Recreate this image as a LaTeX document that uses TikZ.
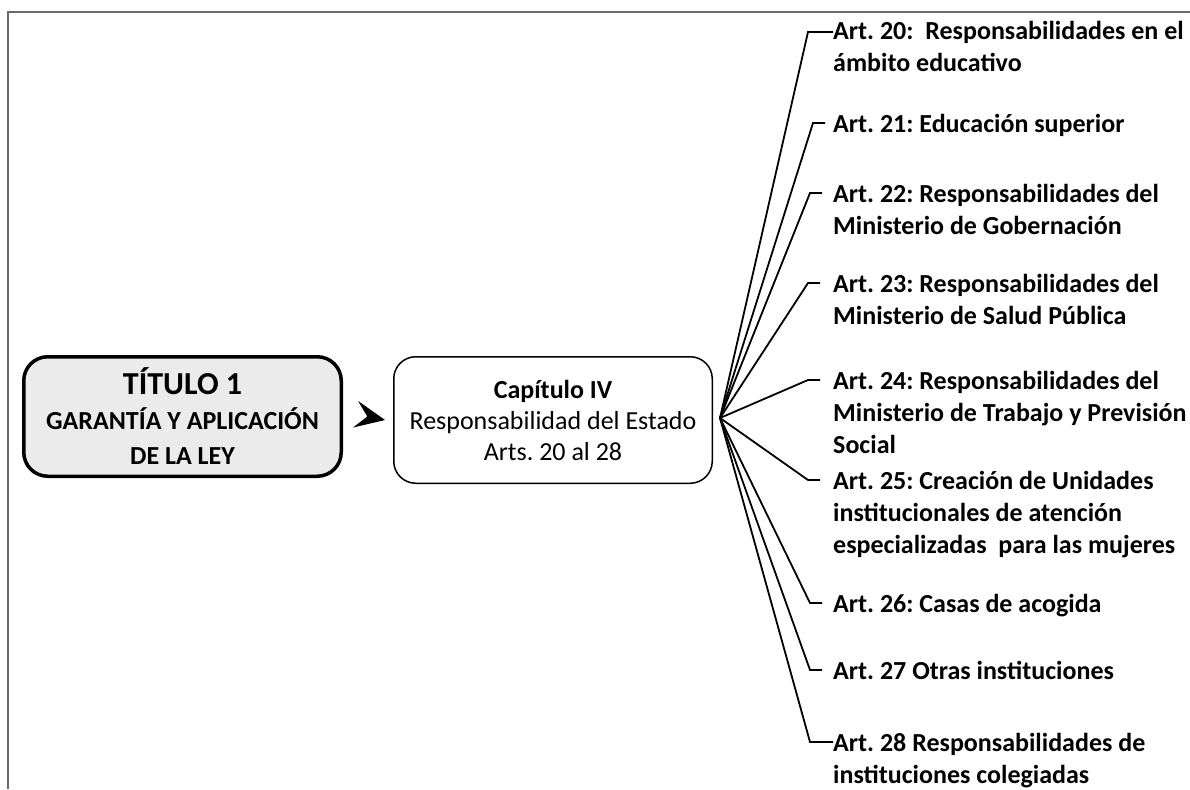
\documentclass[tikz,border=0pt]{standalone}
\usepackage{fontspec}
\setmainfont{Carlito}
\usetikzlibrary{arrows.meta}
\definecolor{framegray}{HTML}{6A6A6A}
\definecolor{boxfill}{HTML}{EBEBEB}
\frenchspacing
\begin{document}
\frenchspacing
\begin{tikzpicture}[x=1pt,y=-1pt,
  framestyle/.style={draw=framegray,line width=2pt},
  titlebox/.style={draw,line width=3.5pt,rounded corners=24pt,fill=boxfill,
    minimum width=317.5pt,minimum height=119.5pt,align=center,inner sep=0pt,
    font=\bfseries\fontsize{26}{35}\selectfont},
  capbox/.style={draw,line width=1.5pt,rounded corners=22pt,fill=white,
    minimum width=318.5pt,minimum height=126.5pt,align=center,inner sep=0pt,
    font=\fontsize{26}{31}\selectfont},
  art/.style={anchor=base west,align=left,inner sep=0pt,
    font=\bfseries\fontsize{26}{32}\selectfont},
  branch/.style={line width=1.8pt,line join=miter},
  pointer/.style={-{Stealth[length=30pt,width=27pt,inset=12pt]},line width=1pt}
]
\useasboundingbox (0,0) rectangle (1190,789);
\draw[framestyle] (8,789) -- (8,12) -- (1190,12);

\node[titlebox] (t) at (182.5,416.5)
  {{\fontsize{32}{38}\selectfont TÍTULO 1}\\ GARANTÍA Y APLICACIÓN\\ DE LA LEY};
\node[capbox] (c) at (553,420)
  {{\bfseries Capítulo IV}\\ Responsabilidad del Estado\\ Arts. 20 al 28};
\draw[pointer] ([xshift=24pt]t.east) -- ([xshift=-8pt]c.west);

\coordinate (fan) at ([xshift=7pt,yshift=2pt]c.east);

% base anchor = baseline of the last line
\node[art] (a20) at (833,72) {Art. 20:\ \ Responsabilidades en el\\ ámbito educativo};
\node[art] (a21) at (833,132) {Art. 21: Educación superior};
\node[art] (a22) at (833,234) {Art. 22: Responsabilidades del\\ Ministerio de Gobernación};
\node[art] (a23) at (833,324) {Art. 23: Responsabilidades del\\ Ministerio de Salud Pública};
\node[art] (a24) at (833,453) {Art. 24: Responsabilidades del\\ Ministerio de Trabajo y Previsión\\ Social};
\node[art] (a25) at (833,553) {Art. 25: Creación de Unidades\\ institucionales de atención\\ especializadas\ \ para las mujeres};
\node[art] (a26) at (833,612) {Art. 26: Casas de acogida};
\node[art] (a27) at (833,679) {Art. 27 Otras instituciones};
\node[art] (a28) at (833,783) {Art. 28 Responsabilidades de\\ instituciones colegiadas};

\coordinate (k20) at (808,32);
\coordinate (k21) at (813,123);
\coordinate (k22) at (810,193);
\coordinate (k23) at (808,283);
\coordinate (k24) at (808,380);
\coordinate (k25) at (808,480);
\coordinate (k26) at (810,603);
\coordinate (k27) at (810,670);
\coordinate (k28) at (810,742);

\draw[branch] (fan) -- (k20) -- (k20 -| a20.west);
\foreach \k in {21,22,23,24,25,26,27}
  \draw[branch] (fan) -- (k\k) -- ([xshift=12pt]k\k);
\draw[branch] (fan) -- (k28) -- (k28 -| a28.west);
\end{tikzpicture}
\end{document}
